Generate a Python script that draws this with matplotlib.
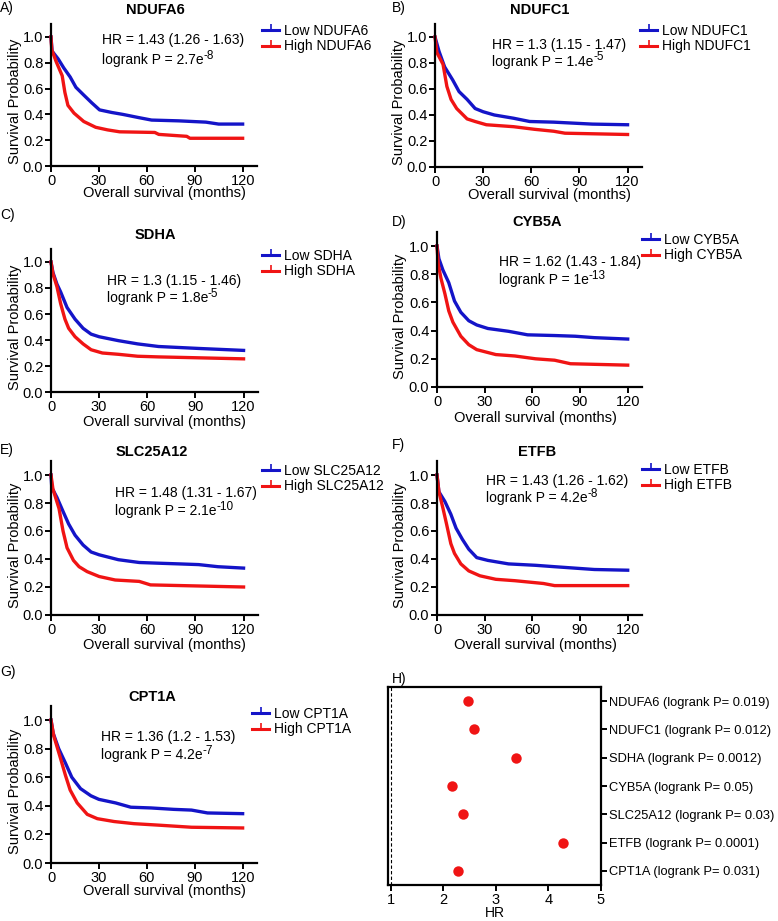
import matplotlib.pyplot as plt
from matplotlib.lines import Line2D

plt.rcParams['font.family'] = ['Liberation Sans', 'DejaVu Sans']

# --- survival curves (months, survival probability)
ndufa6_low_t = [0, 0.7, 4.5, 8, 12, 15.6, 20.5, 25.5, 30.4, 38, 45, 55, 63, 80, 97, 105, 120]
ndufa6_low_s = [1.0, 0.89, 0.83, 0.76, 0.69, 0.61, 0.55, 0.49, 0.435, 0.415, 0.40, 0.375, 0.356, 0.35, 0.34, 0.325, 0.325]
ndufa6_high_t = [0, 0.5, 3.2, 7, 8.7, 10.6, 14.4, 20.5, 28, 35.4, 43, 65, 67.5, 85, 87, 120]
ndufa6_high_s = [1.0, 0.9, 0.81, 0.70, 0.57, 0.47, 0.41, 0.345, 0.30, 0.28, 0.265, 0.26, 0.245, 0.23, 0.215, 0.215]

ndufc1_low_t = [0, 2.5, 6, 11, 15, 20, 25, 30, 37, 49, 59, 74, 98, 120]
ndufc1_low_s = [1.0, 0.89, 0.77, 0.67, 0.58, 0.52, 0.45, 0.425, 0.40, 0.375, 0.35, 0.345, 0.33, 0.325]
ndufc1_high_t = [0, 1.2, 5, 7.4, 10, 13.5, 20, 25, 32, 49, 62, 74, 81, 120]
ndufc1_high_s = [1.0, 0.88, 0.79, 0.62, 0.52, 0.45, 0.37, 0.35, 0.325, 0.31, 0.29, 0.275, 0.26, 0.25]

sdha_low_t = [0, 1.2, 3.7, 6, 10, 15, 20, 25, 30, 42, 54, 67, 92, 120]
sdha_low_s = [1.0, 0.92, 0.83, 0.77, 0.65, 0.56, 0.49, 0.445, 0.425, 0.395, 0.37, 0.35, 0.335, 0.32]
sdha_high_t = [0, 1.2, 3.7, 6, 8.7, 11, 15, 20, 25, 32, 42, 54, 67, 85, 120]
sdha_high_s = [1.0, 0.91, 0.81, 0.68, 0.56, 0.49, 0.425, 0.37, 0.325, 0.30, 0.29, 0.275, 0.27, 0.265, 0.255]

cyb5a_low_t = [0, 1.2, 3.7, 7.4, 11, 15, 20, 25, 32, 45, 57, 74, 87, 99, 120]
cyb5a_low_s = [1.0, 0.91, 0.83, 0.74, 0.61, 0.53, 0.47, 0.44, 0.415, 0.395, 0.37, 0.365, 0.36, 0.35, 0.34]
cyb5a_high_t = [0, 0.8, 2.5, 5, 7.4, 10, 15, 20, 25, 37, 49, 62, 74, 84, 120]
cyb5a_high_s = [1.0, 0.87, 0.77, 0.66, 0.54, 0.46, 0.36, 0.30, 0.265, 0.23, 0.22, 0.20, 0.19, 0.165, 0.155]

slc25a12_low_t = [0, 0.5, 3.7, 7.5, 11, 15, 20, 25, 30, 42, 55, 67, 80, 92, 104, 120]
slc25a12_low_s = [1.0, 0.91, 0.84, 0.74, 0.65, 0.57, 0.50, 0.45, 0.43, 0.395, 0.375, 0.37, 0.365, 0.36, 0.345, 0.335]
slc25a12_high_t = [0, 1.2, 5, 7.5, 10, 14, 17.5, 22.5, 30, 40, 55, 62, 120]
slc25a12_high_s = [1.0, 0.90, 0.76, 0.60, 0.48, 0.39, 0.345, 0.31, 0.275, 0.25, 0.24, 0.215, 0.20]

etfb_low_t = [0, 1.2, 5, 8.7, 12, 16, 20, 25, 32, 45, 62, 74, 99, 120]
etfb_low_s = [1.0, 0.88, 0.81, 0.72, 0.62, 0.54, 0.47, 0.41, 0.39, 0.365, 0.355, 0.345, 0.325, 0.32]
etfb_high_t = [0, 1.2, 3.7, 6, 8.7, 11, 15, 20, 27, 37, 49, 67, 74, 120]
etfb_high_s = [1.0, 0.88, 0.765, 0.65, 0.51, 0.44, 0.365, 0.315, 0.28, 0.255, 0.245, 0.225, 0.21, 0.21]

cpt1a_low_t = [0, 1.3, 4.8, 9, 13, 18.5, 25, 30, 40.5, 50, 62.6, 77, 88, 98, 120]
cpt1a_low_s = [1.0, 0.91, 0.80, 0.70, 0.60, 0.52, 0.47, 0.445, 0.42, 0.39, 0.385, 0.375, 0.37, 0.35, 0.345]
cpt1a_high_t = [0, 1.7, 6, 9, 12, 16.4, 22.7, 29, 39.5, 52, 67, 88, 120]
cpt1a_high_s = [1.0, 0.89, 0.73, 0.615, 0.51, 0.42, 0.34, 0.31, 0.29, 0.275, 0.265, 0.25, 0.245]

hr_texts = ["HR = 1.43 (1.26 - 1.63)", "HR = 1.3 (1.15 - 1.47)", "HR = 1.3 (1.15 - 1.46)",
            "HR = 1.62 (1.43 - 1.84)", "HR = 1.48 (1.31 - 1.67)", "HR = 1.43 (1.26 - 1.62)",
            "HR = 1.36 (1.2 - 1.53)"]
p_base = ["2.7e", "1.4e", "1.8e", "1e", "2.1e", "4.2e", "4.2e"]
p_exp = ["-8", "-5", "-5", "-13", "-10", "-8", "-7"]

# --- panel H
genes = ["NDUFA6", "NDUFC1", "SDHA", "CYB5A", "SLC25A12", "ETFB", "CPT1A"]
hr_values = [2.47, 2.58, 3.38, 2.16, 2.37, 4.28, 2.27]
hr_pvals = ["0.019", "0.012", "0.0012", "0.05", "0.03", "0.0001", "0.031"]

BLUE = "#1414c8"
RED = "#f01414"
W, H = 778, 921
FS = 10

fig = plt.figure(figsize=(W / 100, H / 100), dpi=100)


def fx(x):
    return x / W


def fy(y):
    return 1 - y / H


def km_panel(i, letter, lab_xy, ylab_x, box, low, high, title_xy, hr_xy, leg_xy, xlab_xy):
    x0, x1, y0, y1 = box  # pixels: x of t=0, right end, y of 0.0, y of 1.0
    xmax = 129
    ytop = y0 - 1.1 * (y0 - y1)
    ax = fig.add_axes([fx(x0), fy(y0), (x1 - x0) / W, (y0 - ytop) / H])
    ax.plot(low[0], low[1], color=BLUE, lw=2.4, clip_on=False)
    ax.plot(high[0], high[1], color=RED, lw=2.4, clip_on=False)
    ax.set_xlim(0, xmax)
    ax.set_ylim(0, 1.1)
    ax.set_xticks([0, 30, 60, 90, 120])
    ax.set_yticks([0.0, 0.2, 0.4, 0.6, 0.8, 1.0])
    ax.set_yticklabels(["0.0", "0.2", "0.4", "0.6", "0.8", "1.0"])
    for s in ["top", "right"]:
        ax.spines[s].set_visible(False)
    for s in ["left", "bottom"]:
        ax.spines[s].set_linewidth(1.6)
    ax.tick_params(direction="out", length=4, width=1.4, labelsize=FS + 0.5, pad=1.5)
    ax.text(hr_xy[0], hr_xy[1], hr_texts[i], fontsize=FS, va="center")
    pt = ax.text(hr_xy[0], hr_xy[2], "logrank P = " + p_base[i], fontsize=FS, va="center")
    # exponent drawn as a raised, slightly smaller text after the base
    ax.annotate(p_exp[i], xy=(1, 0.8), xycoords=pt, fontsize=FS - 1.5, va="center", ha="left")

    handles = [Line2D([], [], color=BLUE, lw=2.2, marker=2, ms=4, mew=1.2),
               Line2D([], [], color=RED, lw=2.2, marker=2, ms=4, mew=1.2)]
    ax.legend(handles, ["Low " + genes[i], "High " + genes[i]], loc="upper left",
              bbox_to_anchor=(fx(leg_xy[0]), fy(leg_xy[1])), bbox_transform=fig.transFigure,
              frameon=False, fontsize=FS, borderpad=0, borderaxespad=0, handlelength=1.25,
              handletextpad=0.3, labelspacing=0.1, numpoints=1)

    fig.text(fx(title_xy[0]), fy(title_xy[1]), genes[i], fontsize=FS + 0.5, fontweight="bold",
             ha="center", va="center")
    fig.text(fx(xlab_xy[0]), fy(xlab_xy[1]), "Overall survival (months)", fontsize=FS + 0.5,
             ha="center", va="center")
    fig.text(fx(ylab_x), fy((y0 + y1) / 2), "Survival Probability", fontsize=FS + 0.5,
             rotation=90, ha="center", va="center")
    fig.text(fx(lab_xy[0]), fy(lab_xy[1]), letter, fontsize=FS, ha="left", va="center")
    return ax


km_panel(0, "A)", (0, 8), 15, (51, 257, 166, 37), (ndufa6_low_t, ndufa6_low_s), (ndufa6_high_t, ndufa6_high_s),
         (155, 10), (32, 0.98, 0.82), (262, 24), (164, 193))
km_panel(1, "B)", (392, 8), 399, (435, 642, 167, 37), (ndufc1_low_t, ndufc1_low_s), (ndufc1_high_t, ndufc1_high_s),
         (540, 10), (35.5, 0.94, 0.81), (640, 24), (549, 195))
km_panel(2, "C)", (0, 215), 15, (51, 258, 392, 262), (sdha_low_t, sdha_low_s), (sdha_high_t, sdha_high_s),
         (155, 235), (34.6, 0.85, 0.72), (262, 249), (164, 422))
km_panel(3, "D)", (392, 222), 400, (437, 642, 387, 246), (cyb5a_low_t, cyb5a_low_s), (cyb5a_high_t, cyb5a_high_s),
         (537, 222), (39, 0.89, 0.76), (642, 233), (535, 418))
km_panel(4, "E)", (0, 450), 15, (51, 258, 615, 475), (slc25a12_low_t, slc25a12_low_s), (slc25a12_high_t, slc25a12_high_s),
         (152, 452), (40, 0.87, 0.74), (262, 464), (164, 645))
km_panel(5, "F)", (392, 445), 400, (437, 642, 615, 475), (etfb_low_t, etfb_low_s), (etfb_high_t, etfb_high_s),
         (537, 452), (30.6, 0.96, 0.835), (642, 463), (535, 645))
km_panel(6, "G)", (0, 672), 15, (51, 257, 863, 720), (cpt1a_low_t, cpt1a_low_s), (cpt1a_high_t, cpt1a_high_s),
         (152, 697), (31, 0.88, 0.755), (252, 707), (164, 891))

# --- H) dot plot of hazard ratios
axh = fig.add_axes([fx(388), fy(885), (601 - 388) / W, (885 - 687) / H])
ypos = list(range(len(genes)))
axh.plot(hr_values, ypos, "o", color=RED, ms=7.5, mec="none")
axh.axvline(1, color="black", lw=0.8, ls=(0, (3, 2)))
axh.set_xlim(0.943, 5)
axh.set_ylim(len(genes) - 0.5, -0.5)
axh.set_xticks([1, 2, 3, 4, 5])
axh.set_yticks(ypos)
axh.set_yticklabels([g + " (logrank P= " + p + ")" for g, p in zip(genes, hr_pvals)])
axh.yaxis.tick_right()
for s in axh.spines.values():
    s.set_linewidth(1.6)
axh.tick_params(direction="out", length=4, width=1.4, labelsize=FS + 0.5, pad=1.5)
axh.tick_params(axis="y", left=False, right=True, labelsize=9.3)
fig.text(fx(495), fy(913), "HR", fontsize=FS, ha="center", va="center")
fig.text(fx(392), fy(679), "H)", fontsize=FS, ha="left", va="center")

fig.savefig("out.png", dpi=100)
